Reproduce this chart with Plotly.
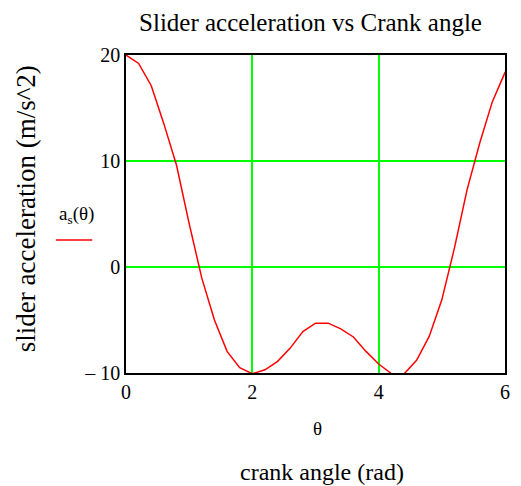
import plotly.graph_objects as go

# crank angle samples (rad), step 0.2 from 0 to 6.2
theta = [0.0, 0.2, 0.4, 0.6, 0.8, 1.0, 1.2, 1.4, 1.6, 1.8, 2.0, 2.2, 2.4, 2.6, 2.8, 3.0,
         3.2, 3.4, 3.6, 3.8, 4.0, 4.2, 4.4, 4.6, 4.8, 5.0, 5.2, 5.4, 5.6, 5.8, 6.0, 6.2]
# slider acceleration (m/s^2)
accel = [20.0, 19.2, 17.1, 13.5, 9.6, 4.1, -1.05, -5.0, -7.96, -9.5, -10.07, -9.7, -8.9, -7.65, -6.1, -5.3,
         -5.3, -5.83, -6.6, -7.96, -9.15, -10.05, -10.1, -8.8, -6.55, -3.1, 1.8, 7.3, 11.7, 15.6, 18.35, 19.85]

x_ticks = [0, 2, 4, 6]
y_ticks = [-10, 0, 10, 20]
y_tick_text = ["\u2013 10", "0", "10", "20"]

SERIF = "Liberation Serif, Times New Roman, serif"

# page body has an 8px margin, so the figure is 8px smaller than the window
W, H = 513, 478

fig = go.Figure()
fig.add_trace(go.Scatter(
    x=theta, y=accel, mode="lines",
    line=dict(color="#ff0000", width=1.5),
    showlegend=False, hoverinfo="skip",
))

# legend-like label: text above a short red line, as in the original
fig.add_annotation(
    text="a<sub>s</sub>(\u03b8)", xref="paper", yref="paper",
    x=-0.13, y=0.497, xanchor="center", yanchor="middle", showarrow=False,
    font=dict(family=SERIF, size=19, color="black"),
)
fig.add_shape(
    type="line", xref="paper", yref="paper",
    x0=-0.185, x1=-0.089, y0=0.418, y1=0.418,
    line=dict(color="#ff0000", width=1.5),
)

fig.add_annotation(
    text="slider acceleration (m/s^2)", xref="paper", yref="paper",
    x=-0.263, y=0.516, xanchor="center", yanchor="middle",
    textangle=-90, showarrow=False,
    font=dict(family=SERIF, size=27, color="black"),
)
fig.add_annotation(
    text="\u03b8", xref="paper", yref="paper",
    x=0.505, y=-0.173, xanchor="center", yanchor="middle", showarrow=False,
    font=dict(family=SERIF, size=19, color="black"),
)
fig.add_annotation(
    text="crank angle (rad)", xref="paper", yref="paper",
    x=0.516, y=-0.31, xanchor="center", yanchor="middle", showarrow=False,
    font=dict(family=SERIF, size=24, color="black"),
)

fig.update_layout(
    width=W, height=H,
    margin=dict(l=118, r=11, t=47, b=113),
    paper_bgcolor="white", plot_bgcolor="white",
    title=dict(
        text="Slider acceleration vs Crank angle",
        x=302.5 / W, xref="container", xanchor="center",
        y=1 - 14 / H, yref="container", yanchor="middle",
        font=dict(family=SERIF, size=25, color="black"),
    ),
    font=dict(family=SERIF, size=20, color="black"),
    xaxis=dict(
        range=[0, 6], tickvals=x_ticks, ticks="",
        showgrid=True, gridcolor="#00ff00", gridwidth=1.5,
        zeroline=False, showline=True, linecolor="black", linewidth=1.5, mirror=True,
    ),
    yaxis=dict(
        range=[-10, 20], tickvals=y_ticks, ticktext=y_tick_text, ticks="",
        showgrid=True, gridcolor="#00ff00", gridwidth=1.5,
        zeroline=False, showline=True, linecolor="black", linewidth=1.5, mirror=True,
    ),
)

fig.write_html("out.html")
